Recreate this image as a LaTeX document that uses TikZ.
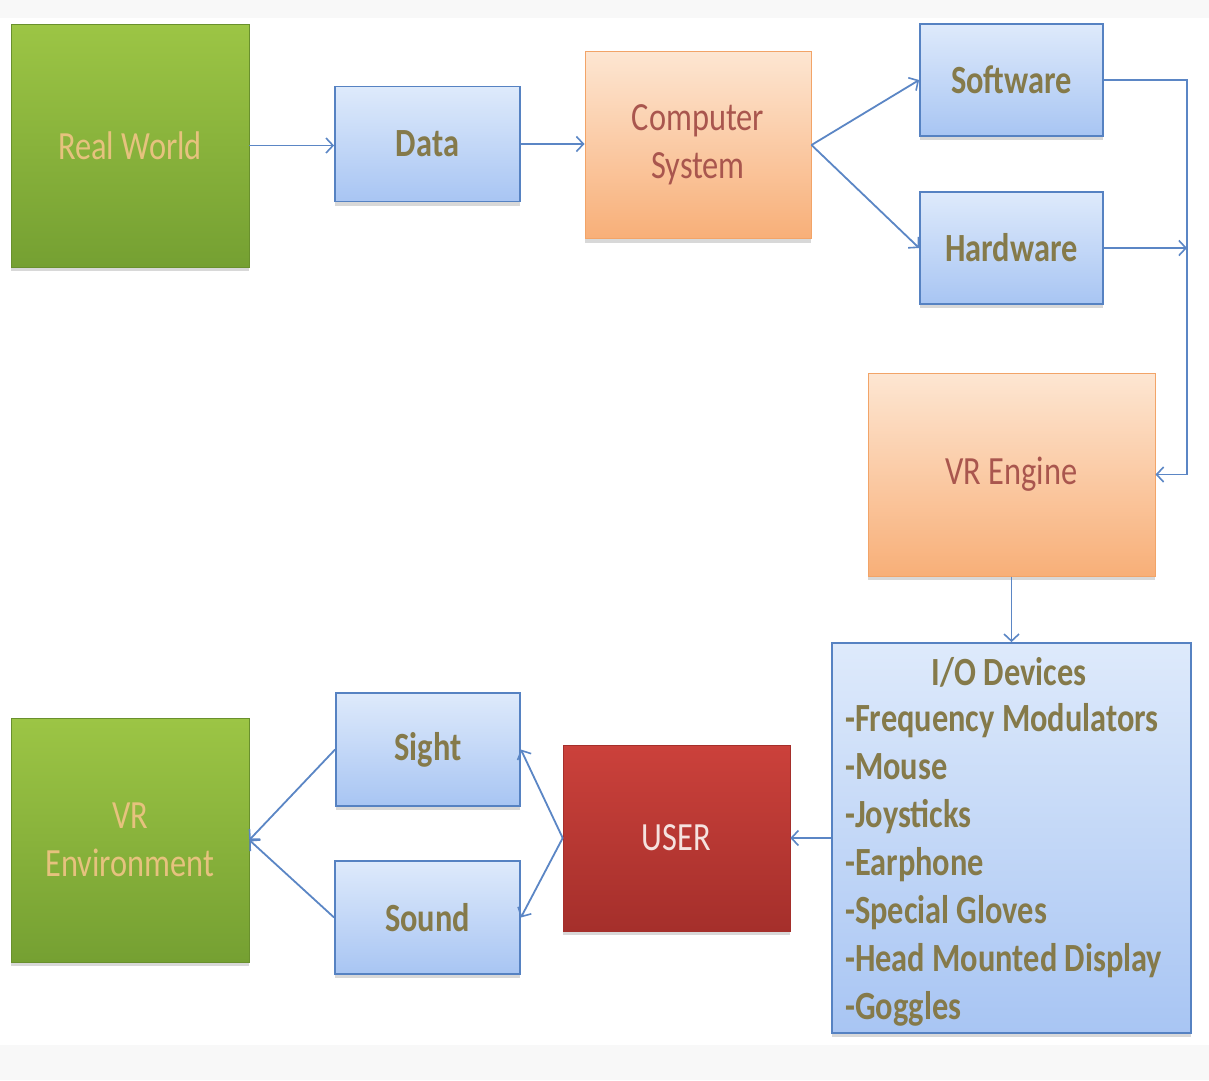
\documentclass[tikz,border=0pt]{standalone}
\usepackage{fontspec}
\setmainfont[FakeStretch=0.81]{Carlito}
\usetikzlibrary{arrows.meta,shadows}
\definecolor{gtop}{HTML}{9CC545}
\definecolor{gbot}{HTML}{75A032}
\definecolor{btop}{HTML}{DEEAFB}
\definecolor{bbot}{HTML}{A8C5F3}
\definecolor{bline}{HTML}{5682C2}
\definecolor{otop}{HTML}{FDE6D2}
\definecolor{obot}{HTML}{F8AF78}
\definecolor{oline}{HTML}{F2A468}
\definecolor{rtop}{HTML}{CB413B}
\definecolor{rbot}{HTML}{A52F2B}
\definecolor{conncol}{HTML}{5B86C5}
\definecolor{tantxt}{HTML}{E6C27E}
\definecolor{olivetxt}{HTML}{857A4A}
\definecolor{browntxt}{HTML}{A9564E}
\definecolor{usertxt}{HTML}{F5E2DF}
\definecolor{bggray}{HTML}{F8F8F8}
\begin{document}
\begin{tikzpicture}[x=1pt,y=-1pt,
  boxbase/.style={rectangle, inner sep=0pt, align=center,
    font=\fontsize{40}{48}\selectfont,
    drop shadow={shadow xshift=0pt, shadow yshift=-4pt, opacity=0.3}},
  greenbox/.style={boxbase, top color=gtop, bottom color=gbot, draw=gbot!90!black, line width=0.6pt, text=tantxt},
  bluebox/.style={boxbase, top color=btop, bottom color=bbot, draw=bline, line width=1.8pt, text=olivetxt, font=\fontsize{40}{48}\selectfont\bfseries},
  orangebox/.style={boxbase, top color=otop, bottom color=obot, draw=oline, line width=1pt, text=browntxt},
  redbox/.style={boxbase, top color=rtop, bottom color=rbot, draw=rbot, line width=0.6pt, text=usertxt},
  conn/.style={draw=conncol, line width=1.8pt, -{Straight Barb[length=7pt,width=15pt,line width=1.6pt]}}
]
\useasboundingbox (0,0) rectangle (1209,1080);
\fill[white] (0,0) rectangle (1209,1080);
\fill[bggray] (0,0) rectangle (1209,18);
\fill[bggray] (0,1045) rectangle (1209,1080);

% top row
\node[greenbox, minimum width=238pt, minimum height=243pt] (rw) at (130,145.5) {Real World};
\node[bluebox, minimum width=185pt, minimum height=115pt] (data) at (427.5,144) {Data};
\node[orangebox, minimum width=226pt, minimum height=187pt] (comp) at (698,145) {Computer\\System};
\node[bluebox, minimum width=183pt, minimum height=112pt] (sw) at (1011.5,80) {Software};
\node[bluebox, minimum width=183pt, minimum height=112pt] (hw) at (1011.5,248) {Hardware};
\node[orangebox, minimum width=287pt, minimum height=203pt] (vre) at (1011.5,474.5) {VR Engine};

% bottom row
\node[bluebox, minimum width=359pt, minimum height=390pt] (io) at (1011.5,838) {};
\node[text=olivetxt, font=\fontsize{40}{48}\selectfont\bfseries, inner sep=0pt] (iotitle) at (1009,672) {I/O Devices};
\node[text=olivetxt, font=\fontsize{40}{48}\selectfont\bfseries, inner sep=0pt, align=left, anchor=west] (iolist) at (845,865)
  {-Frequency Modulators\\-Mouse\\-Joysticks\\-Earphone\\-Special Gloves\\-Head Mounted Display\\-Goggles};
\node[redbox, minimum width=227pt, minimum height=186pt] (user) at (676.5,838) {USER};
\node[bluebox, minimum width=184pt, minimum height=113pt] (sight) at (428,749.5) {Sight};
\node[bluebox, minimum width=185pt, minimum height=113pt] (sound) at (427.5,917.5) {Sound};
\node[greenbox, minimum width=238pt, minimum height=244pt] (vrenv) at (130,840) {VR\\Environment};

\coordinate (bus) at (1187,300);

% connectors
\draw[conn] (rw.east) -- (rw.east -| data.west);
\draw[conn] (data.east) -- (data.east -| comp.west);
\draw[conn] (comp.east) -- (sw.west);
\draw[conn] (comp.east) -- (hw.west);
\draw[conn] (sw.east) -- (sw.east -| bus) |- (vre.east);
\draw[conn] (hw.east) -- (hw.east -| bus);
\draw[conn] (vre.south) -- (io.north);
\draw[conn] (io.west) -- (user.east);
\draw[conn] (user.west) -- (sight.east);
\draw[conn] (user.west) -- (sound.east);
\draw[conn] (sight.west) -- (vrenv.east);
\draw[conn] (sound.west) -- (vrenv.east);
\end{tikzpicture}
\end{document}
